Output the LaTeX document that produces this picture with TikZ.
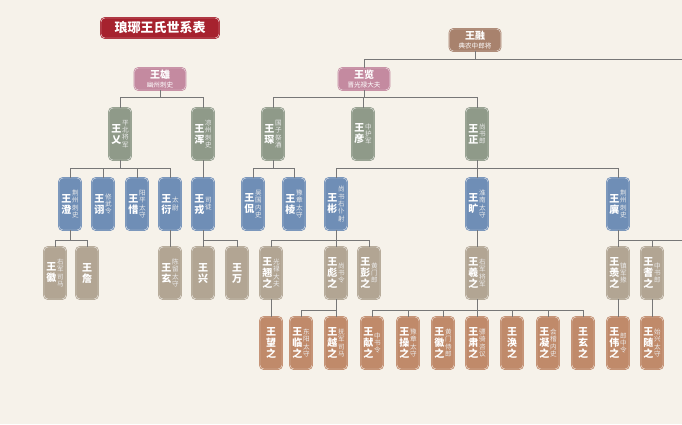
\documentclass[tikz,border=0pt]{standalone}
\usepackage{fontspec}
\setmainfont{Noto Sans CJK SC}
\usetikzlibrary{calc}
\definecolor{wPaper}{HTML}{F6F2EA}
\definecolor{wRed}{HTML}{A6222E}
\definecolor{wBrown}{HTML}{A8826D}
\definecolor{wPink}{HTML}{C48AA0}
\definecolor{wSage}{HTML}{8F9A89}
\definecolor{wBlue}{HTML}{6F8EB6}
\definecolor{wTan}{HTML}{B2A593}
\definecolor{wCopper}{HTML}{C08A6A}
\definecolor{wLine}{HTML}{777777}

\newcommand\namefont{\fontsize{10}{11}\selectfont\bfseries}
\newcommand\titlefont{\fontsize{6.6}{7.4}\selectfont}
\newcommand\htitle{\fontsize{6.6}{7.4}\selectfont\mdseries}

% one column of characters, top to bottom
\ExplSyntaxOn
\NewDocumentCommand{\vcol}{mm}
  { \ensuremath{ \vcenter{ #1 \tl_map_inline:nn {#2} { \hbox_to_wd:nn {1.02em} { \hfil ##1 \hfil } } } } }
\NewDocumentCommand{\vname}{mm}
  { \vcol{\namefont}{#1} \tl_if_empty:nF {#2} { \hspace{0.4pt} \vcol{\titlefont\color{white!92!black}}{#2} } }
\ExplSyntaxOff

\tikzset{
  link/.style={draw=wLine, line width=0.85pt},
  card/.style={rectangle, rounded corners=4pt, fill=#1, draw=#1, double=white!72!#1,
    double distance=0.45pt, line width=0.75pt, text=white, inner sep=0.5pt},
  vcard/.style={card=#1, minimum width=22pt, minimum height=52pt},
  hcard/.style={card=#1, minimum width=51pt, minimum height=22pt, align=center,
    font=\fontsize{10}{10}\selectfont\bfseries},
  banner/.style={card=wRed, double=white!85!wRed, minimum width=118pt, minimum height=20pt,
    font=\fontsize{13}{13}\selectfont\bfseries}
}

\begin{document}
\begin{tikzpicture}[x=1pt, y=-1pt]
  \useasboundingbox (0,0) rectangle (682,424);
  \fill[wPaper] (0,0) rectangle (682,424);

  \node[banner] (title) at (160,28) {琅琊王氏世系表};

  % top generations
  \node[hcard=wBrown] (rong) at (475,40) {王融\\[-1pt]{\htitle 典农中郎将}};
  \node[hcard=wPink] (xiong) at (160,79) {王雄\\[-1pt]{\htitle 幽州刺史}};
  \node[hcard=wPink] (lan) at (364,79) {王览\\[-1pt]{\htitle 晋光禄大夫}};

  % generation 2
  \node[vcard=wSage] (yi) at (120,134) {\vname{王乂}{平北将军}};
  \node[vcard=wSage] (hun) at (203,134) {\vname{王浑}{凉州刺史}};
  \node[vcard=wSage] (chen) at (273,134) {\vname{王琛}{国子祭酒}};
  \node[vcard=wSage] (yanz) at (363,134) {\vname{王彦}{中护军}};
  \node[vcard=wSage] (zheng) at (477,134) {\vname{王正}{尚书郎}};

  % generation 3
  \node[vcard=wBlue] (cheng) at (70,204) {\vname{王澄}{荆州刺史}};
  \node[vcard=wBlue] (xu) at (103,204) {\vname{王诩}{修武令}};
  \node[vcard=wBlue] (xi) at (137,204) {\vname{王惜}{阳平太守}};
  \node[vcard=wBlue] (yan) at (170,204) {\vname{王衍}{太尉}};
  \node[vcard=wBlue] (wrong) at (203,204) {\vname{王戎}{司徒}};
  \node[vcard=wBlue] (kan) at (253,204) {\vname{王侃}{吴国内史}};
  \node[vcard=wBlue] (leng) at (294,204) {\vname{王棱}{豫章太守}};
  \node[vcard=wBlue] (bin) at (336,204) {\vname{王彬}{尚书右仆射}};
  \node[vcard=wBlue] (kuang) at (477,204) {\vname{王旷}{淮南太守}};
  \node[vcard=wBlue] (yii) at (618,204) {\vname{王廙}{荆州刺史}};

  % generation 4
  \node[vcard=wTan] (hui) at (55,273) {\vname{王徽}{右军司马}};
  \node[vcard=wTan] (zhan) at (87,273) {\vname{王詹}{}};
  \node[vcard=wTan] (xuan) at (170,273) {\vname{王玄}{陈留太守}};
  \node[vcard=wTan] (xing) at (203,273) {\vname{王兴}{}};
  \node[vcard=wTan] (wan) at (237,273) {\vname{王万}{}};
  \node[vcard=wTan] (qiao) at (271,273) {\vname{王翘之}{光禄大夫}};
  \node[vcard=wTan] (biao) at (336,273) {\vname{王彪之}{尚书令}};
  \node[vcard=wTan] (peng) at (369,273) {\vname{王彭之}{黄门郎}};
  \node[vcard=wTan] (xizhi) at (477,273) {\vname{王羲之}{右军将军}};
  \node[vcard=wTan] (xianz) at (618,273) {\vname{王羡之}{镇军掾}};
  \node[vcard=wTan] (qi) at (652,273) {\vname{王耆之}{中书郎}};

  % generation 5
  \node[vcard=wCopper] (wangz) at (271,343) {\vname{王望之}{}};
  \node[vcard=wCopper] (lin) at (301,343) {\vname{王临之}{东阳太守}};
  \node[vcard=wCopper] (yue) at (336,343) {\vname{王越之}{抚军司马}};
  \node[vcard=wCopper] (xianzhi) at (372,343) {\vname{王献之}{中书令}};
  \node[vcard=wCopper] (cao) at (408,343) {\vname{王操之}{豫章太守}};
  \node[vcard=wCopper] (huizhi) at (443,343) {\vname{王徽之}{黄门侍郎}};
  \node[vcard=wCopper] (su) at (477,343) {\vname{王肃之}{骠骑咨议}};
  \node[vcard=wCopper] (huan) at (512,343) {\vname{王涣之}{}};
  \node[vcard=wCopper] (ning) at (548,343) {\vname{王凝之}{会稽内史}};
  \node[vcard=wCopper] (xuanz) at (583,343) {\vname{王玄之}{}};
  \node[vcard=wCopper] (wei) at (618,343) {\vname{王伟之}{郎中令}};
  \node[vcard=wCopper] (sui) at (652,343) {\vname{王随之}{始兴太守}};

  % family bars
  \coordinate (edge0) at (682,59);
  \coordinate (edge4) at (682,240);
  \draw[link] (rong.south) -- (rong.south |- edge0);
  \draw[link] (lan.north) -- (lan.north |- edge0) -- (edge0);
  \draw[link] (yii.south) -- (yii.south |- edge4) -- (edge4);
  \draw[link] (xianz.north) -- (xianz.north |- edge4);
  \draw[link] (qi.north) -- (qi.north |- edge4);

  \foreach \p/\y/\a/\b/\kids in {
     xiong/97/yi/hun/{yi,hun},
     lan/97/chen/zheng/{chen,yanz,zheng},
     yi/168/cheng/yan/{cheng,xu,xi,yan},
     chen/168/kan/leng/{kan,leng},
     zheng/168/bin/yii/{bin,kuang,yii},
     cheng/240/hui/zhan/{hui,zhan},
     wrong/240/xing/wan/{xing,wan},
     bin/240/qiao/peng/{qiao,biao,peng},
     biao/310/lin/yue/{lin,yue},
     xizhi/310/xianzhi/xuanz/{xianzhi,cao,huizhi,su,huan,ning,xuanz}}{
     \coordinate (bar) at (0,\y);
     \draw[link] (\p.south) -- (\p.south |- bar);
     \draw[link] (\a.north |- bar) -- (\b.north |- bar);
     \foreach \k in \kids
        \draw[link] (\k.north) -- (\k.north |- bar);
  }

  % only children
  \foreach \p/\k in {hun/wrong, yan/xuan, kuang/xizhi, qiao/wangz, xianz/wei, qi/sui}
     \draw[link] (\p.south) -- (\k.north);
\end{tikzpicture}
\end{document}
